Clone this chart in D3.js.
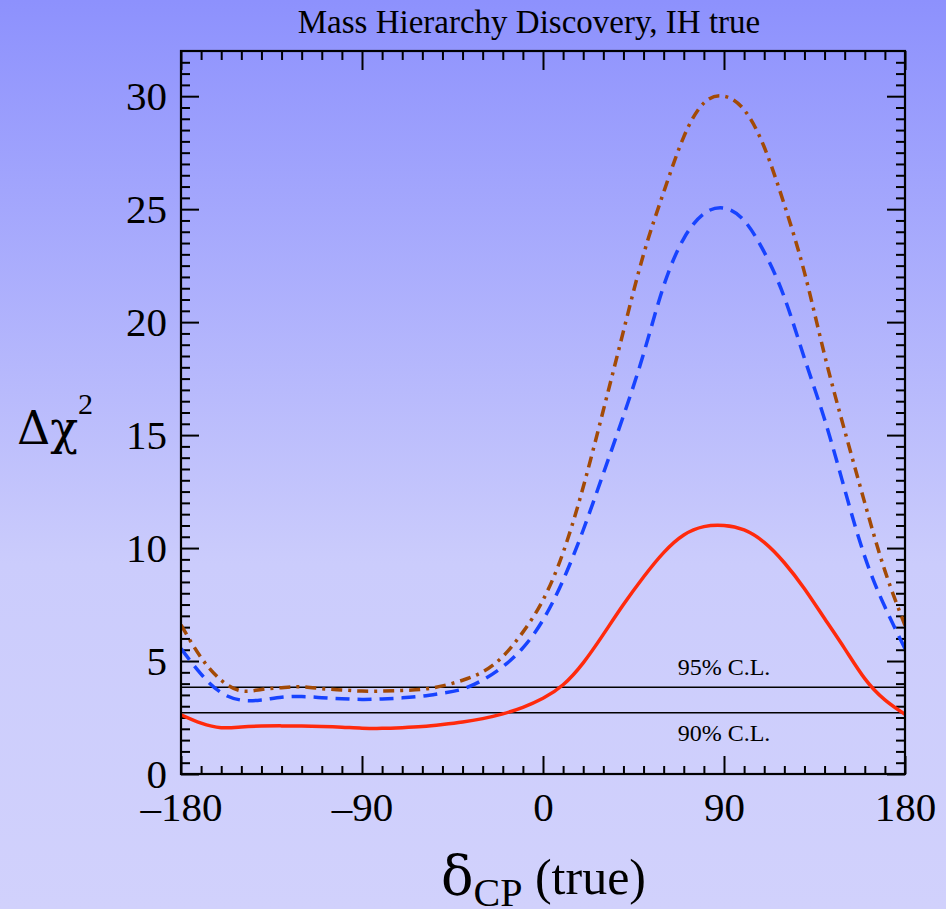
<!DOCTYPE html>
<html>
<head>
<meta charset="utf-8">
<script src="https://cdn.jsdelivr.net/npm/d3@7"></script>
<style>
  body { margin: 0; }
  text { font-family: "Liberation Serif", "DejaVu Serif", serif; fill: #000; }
  .greek { font-family: "DejaVu Serif", "Liberation Serif", serif; }
</style>
</head>
<body>
<script>
const svgWidth = 946
const svgHeight = 909

const margin = { top: 51, right: 41, bottom: 135, left: 181 }
const chartWidth = svgWidth - margin.left - margin.right
const chartHeight = svgHeight - margin.top - margin.bottom

// delta_CP (true), degrees
const deltaCP = d3.range(-180, 181, 10)

// solid red
const redChi2 = [2.62, 2.25, 2.05, 2.08, 2.12, 2.13, 2.12, 2.10, 2.07, 2.03, 2.02, 2.05, 2.10, 2.19, 2.30, 2.45, 2.66, 2.95, 3.35,
  3.95, 4.92, 6.18, 7.50, 8.72, 9.80, 10.58, 10.95, 11.00, 10.80, 10.25, 9.35, 8.20, 6.88, 5.55, 4.22, 3.28, 2.64]
// dashed blue
const blueChi2 = [5.55, 4.42, 3.60, 3.27, 3.28, 3.40, 3.43, 3.38, 3.33, 3.30, 3.32, 3.37, 3.45, 3.58, 3.76, 4.16, 4.75, 5.58, 6.82,
  8.58, 10.8, 13.3, 15.85, 18.6, 21.6, 23.7, 24.8, 25.05, 24.5, 23.1, 21.1, 18.4, 15.7, 12.6, 9.62, 7.40, 5.55]
// dash-dot brown
const brownChi2 = [6.60, 5.15, 4.15, 3.68, 3.74, 3.82, 3.86, 3.78, 3.72, 3.67, 3.67, 3.70, 3.75, 3.90, 4.15, 4.52, 5.20, 6.28, 7.70,
  9.80, 12.7, 16.1, 19.6, 23.0, 25.75, 28.2, 29.7, 30.0, 29.4, 27.75, 25.2, 22.2, 18.55, 15.2, 12.0, 9.0, 6.58]

const clLevels = [3.84, 2.71]
const clLabels = ["95% C.L.", "90% C.L."]

const xMajorTicks = [-180, -90, 0, 90, 180]
const xTickLabels = ["\u2013180", "\u201390", "0", "90", "180"]
const yMajorTicks = [0, 5, 10, 15, 20, 25, 30]
const yTickLabels = ["0", "5", "10", "15", "20", "25", "30"]

const svg = d3.select("body").append("svg")
  .attr("width", svgWidth)
  .attr("height", svgHeight)

const grad = svg.append("defs").append("linearGradient")
  .attr("id", "bg")
  .attr("x1", 0).attr("y1", 0).attr("x2", 0).attr("y2", 1)
grad.append("stop").attr("offset", 0).attr("stop-color", "#8d91fd")
grad.append("stop").attr("offset", 0.62).attr("stop-color", "#cbccfc")
grad.append("stop").attr("offset", 1).attr("stop-color", "#d1d1fc")

svg.append("rect")
  .attr("width", svgWidth)
  .attr("height", svgHeight)
  .attr("fill", "url(#bg)")

svg.append("clipPath").attr("id", "plotClip")
  .append("rect")
  .attr("width", chartWidth)
  .attr("height", chartHeight)

const chartG = svg.append("g")
  .attr("transform", `translate(${margin.left}, ${margin.top})`)

const x = d3.scaleLinear()
  .domain([-180, 180])
  .range([0, chartWidth])

const y = d3.scaleLinear()
  .domain([0, 32])
  .range([chartHeight, 0])

const xMinor = d3.range(-170, 180, 10).filter(d => d % 90 !== 0)
const yMinor = d3.range(0.5, 32, 0.5).filter(d => d % 5 !== 0)

// ticks on all four sides, pointing inward
function tickAxis(axisFn, scale, values, size, transform) {
  chartG.append("g")
    .attr("transform", transform)
    .call(axisFn(scale).tickValues(values).tickSize(size).tickFormat(""))
    .call(g => g.select(".domain").remove())
    .call(g => g.selectAll("line").attr("stroke", "#000").attr("stroke-width", 2))
}

tickAxis(d3.axisBottom, x, xMinor, -8, `translate(0, ${chartHeight})`)
tickAxis(d3.axisBottom, x, xMajorTicks, -18, `translate(0, ${chartHeight})`)
tickAxis(d3.axisTop, x, xMinor, -9, "translate(0, 0)")
tickAxis(d3.axisTop, x, xMajorTicks, -19, "translate(0, 0)")
tickAxis(d3.axisLeft, y, yMinor, -9, "translate(0, 0)")
tickAxis(d3.axisLeft, y, yMajorTicks, -18, "translate(0, 0)")
tickAxis(d3.axisRight, y, yMinor, -9, `translate(${chartWidth}, 0)`)
tickAxis(d3.axisRight, y, yMajorTicks, -18, `translate(${chartWidth}, 0)`)

// tick labels
chartG.append("g")
  .attr("transform", `translate(0, ${chartHeight})`)
  .call(d3.axisBottom(x).tickValues(xMajorTicks).tickSize(0).tickPadding(18)
    .tickFormat((d, i) => xTickLabels[i]))
  .call(g => g.select(".domain").remove())
  .call(g => g.selectAll("text").attr("font-size", 41).attr("font-family", "Liberation Serif").attr("fill", "#000"))

chartG.append("g")
  .call(d3.axisLeft(y).tickValues(yMajorTicks).tickSize(0).tickPadding(14)
    .tickFormat((d, i) => yTickLabels[i]))
  .call(g => g.select(".domain").remove())
  .call(g => g.selectAll("text").attr("font-size", 41).attr("font-family", "Liberation Serif").attr("fill", "#000"))

// confidence level lines
chartG.selectAll(".cl")
  .data(clLevels)
  .enter()
  .append("line")
  .attr("x1", 0)
  .attr("x2", chartWidth)
  .attr("y1", d => y(d))
  .attr("y2", d => y(d))
  .attr("stroke", "#000")
  .attr("stroke-width", 1.6)

chartG.append("text")
  .attr("x", x(90))
  .attr("y", y(clLevels[0]) - 12)
  .attr("text-anchor", "middle")
  .attr("font-size", 24)
  .text(clLabels[0])

chartG.append("text")
  .attr("x", x(90))
  .attr("y", y(clLevels[1]) + 28)
  .attr("text-anchor", "middle")
  .attr("font-size", 24)
  .text(clLabels[1])

const line = d3.line()
  .x((d, i) => x(deltaCP[i]))
  .y(d => y(d))
  .curve(d3.curveNatural)

const series = [
  { values: redChi2, color: "#ff2a0c", dash: null },
  { values: blueChi2, color: "#1743ff", dash: "14,8" },
  { values: brownChi2, color: "#a34a06", dash: "11,6,3,6" }
]

chartG.append("g")
  .attr("clip-path", "url(#plotClip)")
  .selectAll("path")
  .data(series)
  .enter()
  .append("path")
  .attr("d", d => line(d.values))
  .attr("fill", "none")
  .attr("stroke", d => d.color)
  .attr("stroke-width", 3.5)
  .attr("stroke-dasharray", d => d.dash)

// frame
chartG.append("rect")
  .attr("width", chartWidth)
  .attr("height", chartHeight)
  .attr("fill", "none")
  .attr("stroke", "#000")
  .attr("stroke-width", 2.2)

// title
svg.append("text")
  .attr("x", 529)
  .attr("y", 33)
  .attr("text-anchor", "middle")
  .attr("font-size", 33)
  .text("Mass Hierarchy Discovery, IH true")

// y label
const yLab = svg.append("text")
  .attr("x", 17)
  .attr("y", 444)
  .attr("font-size", 46)
yLab.append("tspan").attr("class", "greek").text("\u0394\u03c7")
yLab.append("tspan").attr("font-size", 30).attr("dy", -30).text("2")

// x label
const xLab = svg.append("text")
  .attr("x", 441)
  .attr("y", 894)
  .attr("font-size", 50)
xLab.append("tspan").attr("class", "greek").attr("font-size", 54).text("\u03b4")
xLab.append("tspan").attr("font-size", 40).attr("dy", 12).text("CP")
xLab.append("tspan").attr("dy", -12).text(" (true)")
</script>
</body>
</html>
